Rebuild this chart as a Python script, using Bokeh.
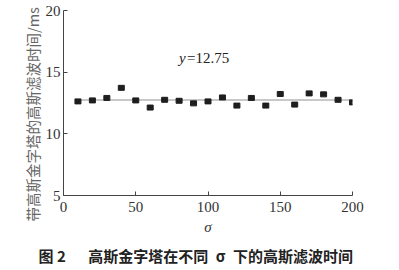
from bokeh.plotting import figure
from bokeh.models import Label, Title, Range1d, FixedTicker
from bokeh.embed import file_html
from bokeh.resources import INLINE

sigma = [10, 20, 30, 40, 50, 60, 70, 80, 90, 100, 110, 120, 130, 140, 150, 160, 170, 180, 190, 200]
time_ms = [12.63, 12.71, 12.91, 13.73, 12.71, 12.13, 12.76, 12.68, 12.47, 12.63,
           12.95, 12.29, 12.91, 12.29, 13.23, 12.37, 13.28, 13.20, 12.76, 12.55]
fit_x = [8, 200]
fit_y = [12.75, 12.75]
x_ticks = [0, 50, 100, 150, 200]
y_ticks = [5, 10, 15, 20]

p = figure(width=399, height=270, output_backend="svg", toolbar_location=None,
           x_range=Range1d(0, 200), y_range=Range1d(5, 20),
           min_border_left=63, min_border_right=47, min_border_top=10, min_border_bottom=68)
p.outline_line_color = None
p.grid.visible = False
p.background_fill_color = "white"
p.border_fill_color = "white"

p.line(fit_x, fit_y, line_color="#c8c8c8", line_width=2)
p.rect(sigma, time_ms, width=6, height=5, width_units="screen", height_units="screen",
       fill_color="#1e1e1e", line_color="#1e1e1e")

for ax in (p.xaxis[0], p.yaxis[0]):
    ax.major_tick_in = 4
    ax.major_tick_out = 0
    ax.minor_tick_line_color = None
    ax.axis_line_color = "#444444"
    ax.major_tick_line_color = "#444444"
    ax.major_label_text_font = "Liberation Serif"
    ax.major_label_text_font_size = "15px"
    ax.major_label_text_color = "#333333"

p.xaxis[0].ticker = FixedTicker(ticks=x_ticks)
p.yaxis[0].ticker = FixedTicker(ticks=y_ticks)
p.xaxis[0].major_label_standoff = 6
p.yaxis[0].major_label_standoff = 3

p.xaxis[0].axis_label = "σ"
p.xaxis[0].axis_label_text_font = "Liberation Serif"
p.xaxis[0].axis_label_text_font_style = "italic"
p.xaxis[0].axis_label_text_font_size = "15px"
p.xaxis[0].axis_label_text_color = "#333333"
p.xaxis[0].axis_label_standoff = 4

# y axis title as a left-side Title so it can run past the frame like the reference
p.add_layout(Title(text="带高斯金字塔的高斯滤波时间/ms", align="left", offset=-26,
                   text_font="Noto Sans CJK SC", text_font_style="normal",
                   text_font_size="14.5px", text_color="#666666", standoff=0), "left")

p.add_layout(Label(x=80, y=15.5, text="y", text_font="Liberation Serif",
                   text_font_style="italic", text_font_size="15px", text_color="#222222"))
p.add_layout(Label(x=85.5, y=15.5, text="=12.75", text_font="Liberation Serif",
                   text_font_size="15px", text_color="#222222"))

p.add_layout(Title(text="图 2\u3000\u2002高斯金字塔在不同\u2002σ\u2002下的高斯滤波时间",
                   align="left", offset=-25,
                   text_font="Noto Sans CJK SC", text_font_style="bold",
                   text_font_size="15px", text_color="#222222"), "below")

open("out.html", "w").write(file_html(p, INLINE))
